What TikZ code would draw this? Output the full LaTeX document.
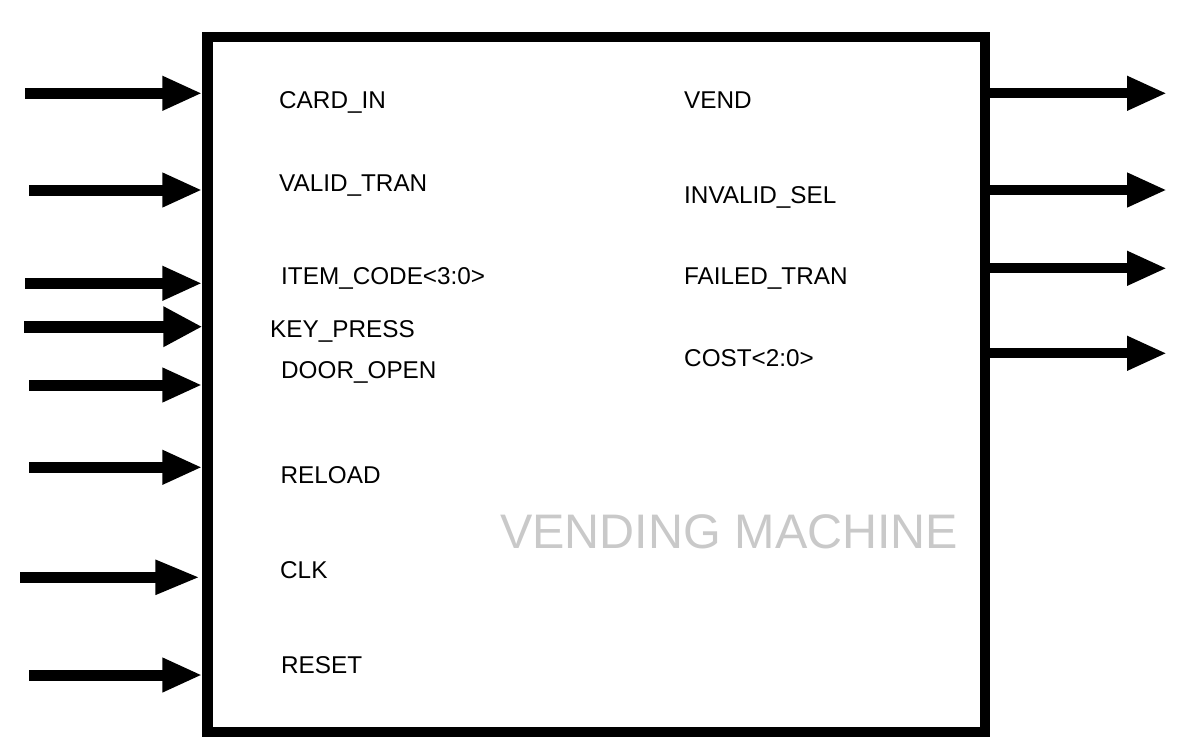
\documentclass[tikz,border=0pt]{standalone}
\usepackage{fontspec}
\setmainfont{Liberation Sans}
\usetikzlibrary{arrows.meta}
\tikzset{
  sig/.style={anchor=base west, inner sep=0pt, font=\fontsize{24.3}{28}\selectfont, text=black},
  arr/.style={line width=11pt, -{Triangle[length=40pt,width=32pt]}},
  bigarr/.style={line width=12pt, -{Triangle[length=39pt,width=38pt]}},
  blk/.style={draw, line width=10.5pt, rectangle, inner sep=0pt, minimum width=777.5pt, minimum height=695pt}
}
\begin{document}
\begin{tikzpicture}[x=1pt,y=-1pt]
\useasboundingbox (0,0) rectangle (1188,752);
\node[blk] (box) at (596.25,384.5) {};
% input start points
\coordinate (i1) at (25,93.3);
\coordinate (i2) at (29,190);
\coordinate (i3) at (25,283.3);
\coordinate (i4) at (24,326.7);
\coordinate (i5) at (29,385);
\coordinate (i6) at (29,467.3);
\coordinate (i7) at (20,577.3);
\coordinate (i8) at (29,675);
% output end points
\coordinate (o1) at (1167,93.3);
\coordinate (o2) at (1167,190);
\coordinate (o3) at (1167,268.3);
\coordinate (o4) at (1167,353.3);
\foreach \n in {i1,i2,i3,i5,i6,i8}{\draw[arr] (\n) -- (\n -| box.west);}
\draw[bigarr] (i4) -- (i4 -| box.west);
\draw[arr,-{Triangle[length=45pt,width=32pt]}] (i7) -- ([xshift=-2pt]i7 -| box.west);
\foreach \n in {o1,o2,o3,o4}{\draw[arr,line width=10pt] (\n -| box.east) -- (\n);}
% labels
\node[sig] (l1) at (279,108.3) {CARD\_IN};
\node[sig] (l2) at (279,191.7) {VALID\_TRAN};
\node[sig] (l3) at (281,284) {ITEM\_CODE<3:0>};
\node[sig] (l4) at (270,337.3) {KEY\_PRESS};
\node[sig] (l5) at (281,378.3) {DOOR\_OPEN};
\node[sig] (l6) at (280.5,483.3) {RELOAD};
\node[sig] (l7) at (280,578.3) {CLK};
\node[sig] (l8) at (281,673.3) {RESET};
\node[sig] (r1) at (684,108.3) {VEND};
\node[sig] (r2) at (684,203.3) {INVALID\_SEL};
\node[sig] (r3) at (684,284) {FAILED\_TRAN};
\node[sig] (r4) at (684,366.7) {COST<2:0>};
\node[anchor=base west, inner sep=0pt, font=\fontsize{48.5}{56}\selectfont, text=black!21] (title) at (500,548.3) {VENDING MACHINE};
\end{tikzpicture}
\end{document}
